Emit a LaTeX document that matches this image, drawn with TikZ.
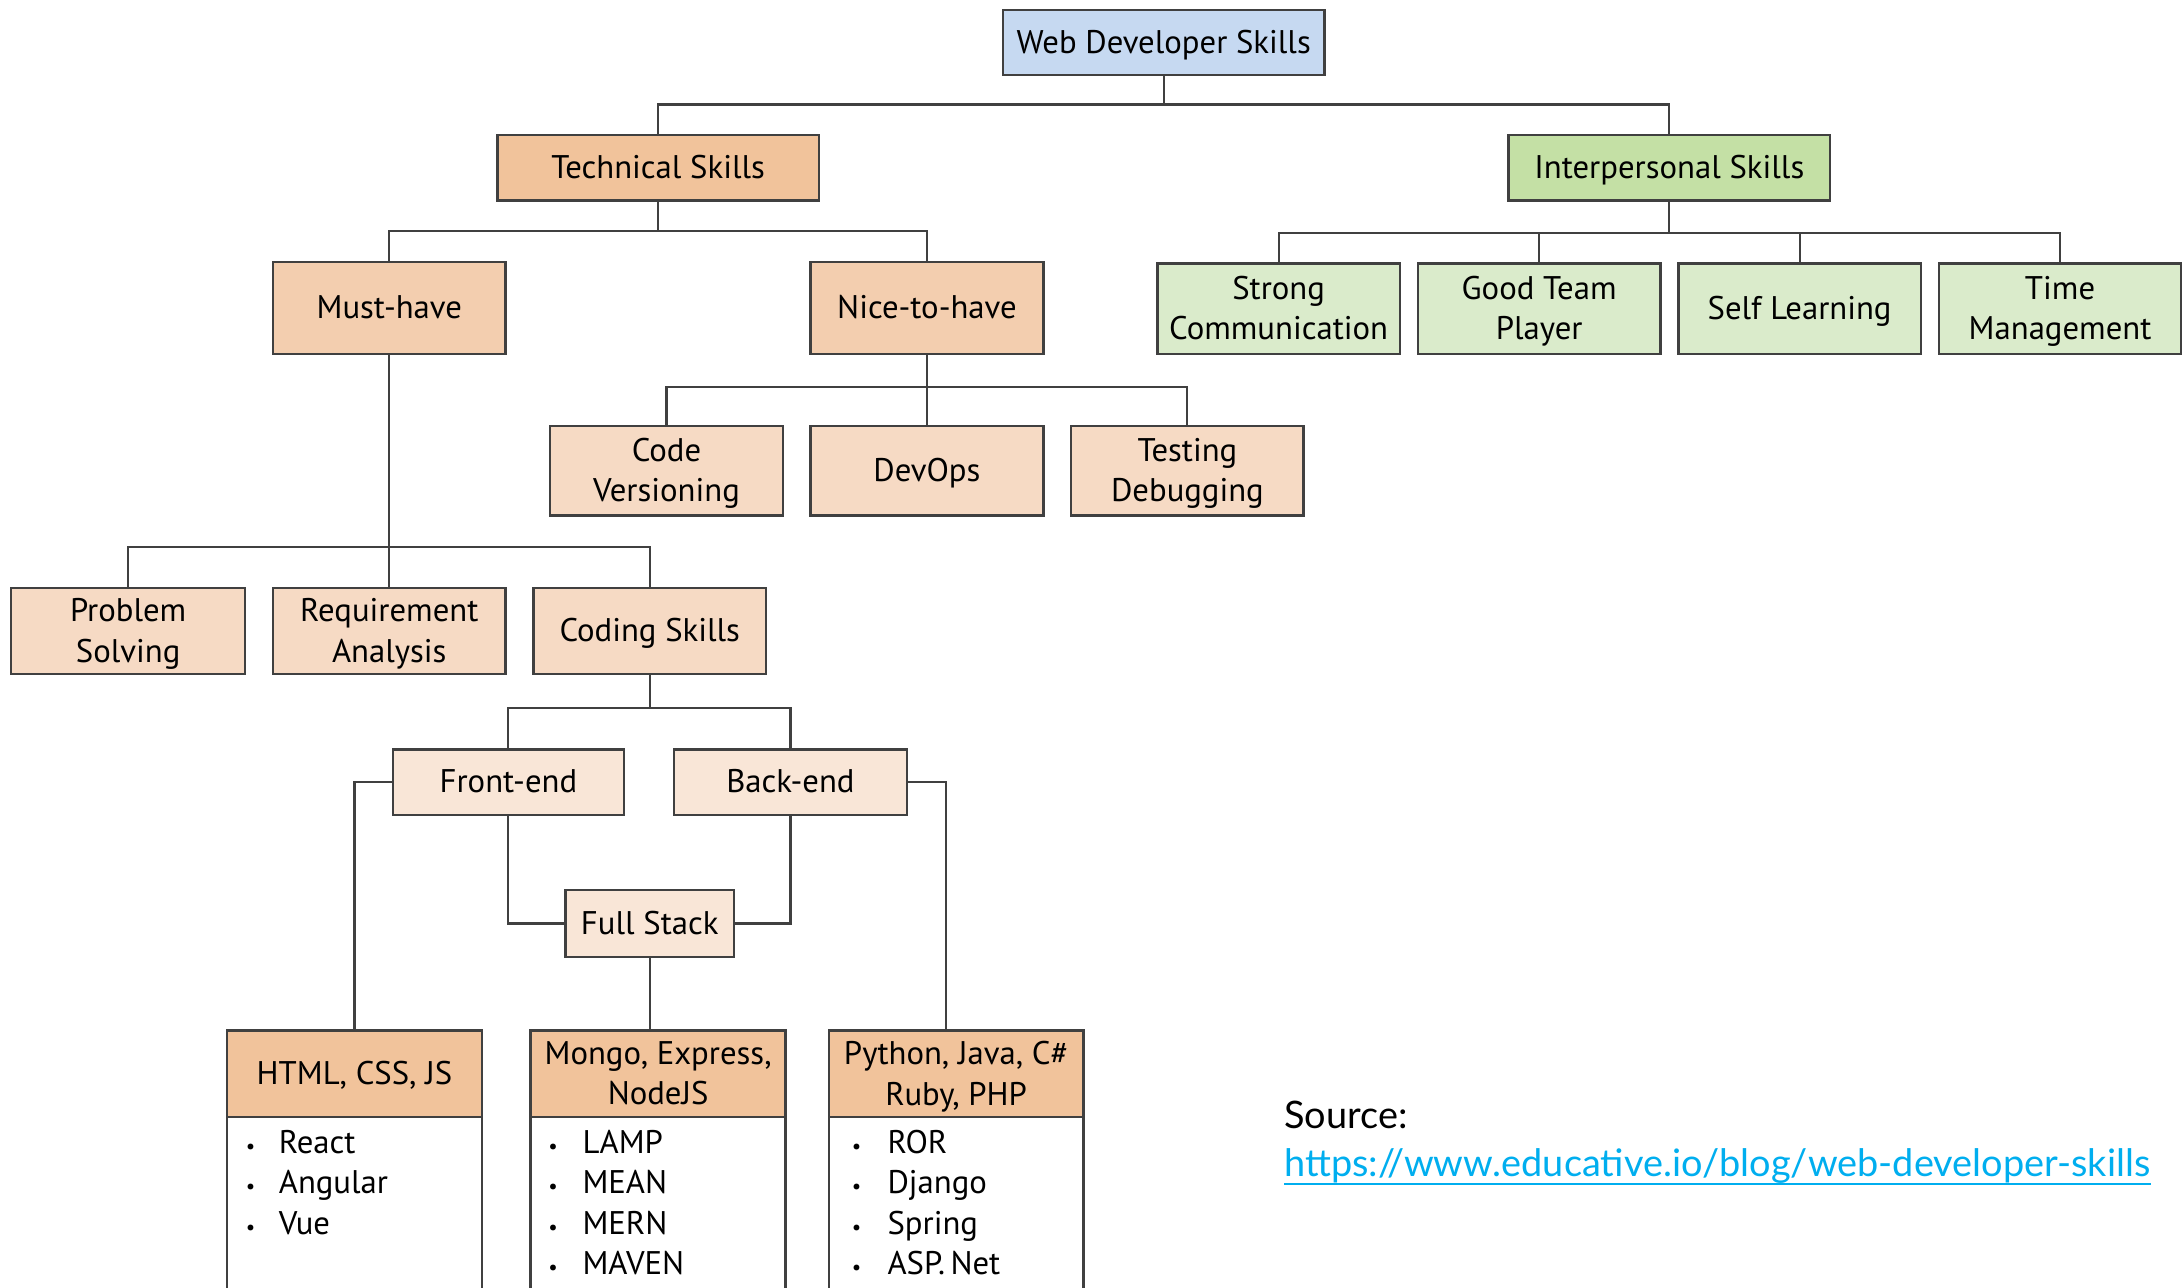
\documentclass[tikz,border=0pt]{standalone}
\usepackage{fontspec}
\setmainfont{PT Sans}
\newfontfamily\srcfont{Lato}
\definecolor{webblue}{HTML}{C6D9F1}
\definecolor{techor}{HTML}{F1C39B}
\definecolor{mustor}{HTML}{F3CEAF}
\definecolor{lvlthree}{HTML}{F6DAC4}
\definecolor{lvlfour}{HTML}{F9E6D7}
\definecolor{intgreen}{HTML}{C4E0A5}
\definecolor{intgreenlt}{HTML}{DAEBCB}
\definecolor{boxline}{HTML}{404040}
\definecolor{linkcol}{HTML}{00AEEF}
\begin{document}
\begin{tikzpicture}[x=1pt,y=1pt,
  box/.style={draw=boxline, line width=1.8pt, rectangle, align=center, inner sep=0pt,
    text depth=1pt, font=\fontsize{23.5}{29}\selectfont, text=black},
  conn/.style={draw=boxline, line width=1.5pt},
  item/.style={anchor=base west, inner sep=0pt, font=\fontsize{23.5}{25}\selectfont},
  bul/.style={anchor=base, inner sep=0pt, font=\fontsize{15}{16}\selectfont}]
\clip (0,0) rectangle (1568,-924.7);
\fill[white] (0,0) rectangle (1568,-924.7);
% levels
\coordinate (b1) at (0,-75);
\coordinate (b2) at (0,-166);
\coordinate (b3) at (0,-167);
\coordinate (b4) at (0,-278);
\coordinate (b5) at (0,-393);
\coordinate (b6) at (0,-508);
% nodes
\node[box, fill=webblue, minimum width=231pt, minimum height=47pt] (web) at (835.5,-30.5) {Web Developer Skills};
\node[box, fill=techor, minimum width=231pt, minimum height=47pt] (tech) at (472.5,-120.5) {Technical Skills};
\node[box, fill=intgreen, minimum width=231pt, minimum height=47pt] (inter) at (1198.5,-120.5) {Interpersonal Skills};
\node[box, fill=mustor, minimum width=167pt, minimum height=66pt] (must) at (279.5,-221) {Must-have};
\node[box, fill=mustor, minimum width=167pt, minimum height=66pt] (nice) at (665.5,-221) {Nice-to-have};
\node[box, fill=intgreenlt, minimum width=174pt, minimum height=65pt] (strong) at (918,-221.5) {Strong\\Communication};
\node[box, fill=intgreenlt, minimum width=174pt, minimum height=65pt] (team) at (1105,-221.5) {Good Team\\Player};
\node[box, fill=intgreenlt, minimum width=174pt, minimum height=65pt] (self) at (1292,-221.5) {Self Learning};
\node[box, fill=intgreenlt, minimum width=174pt, minimum height=65pt] (time) at (1479,-221.5) {Time\\Management};
\node[box, fill=lvlthree, minimum width=167pt, minimum height=64pt] (code) at (478.5,-338) {Code\\Versioning};
\node[box, fill=lvlthree, minimum width=167pt, minimum height=64pt] (devops) at (665.5,-338) {DevOps};
\node[box, fill=lvlthree, minimum width=167pt, minimum height=64pt] (test) at (852.5,-338) {Testing\\Debugging};
\node[box, fill=lvlthree, minimum width=168pt, minimum height=62pt] (prob) at (92,-453) {Problem\\Solving};
\node[box, fill=lvlthree, minimum width=167pt, minimum height=62pt] (req) at (279.5,-453) {Requirement\\Analysis};
\node[box, fill=lvlthree, minimum width=167pt, minimum height=62pt] (coding) at (466.5,-453) {Coding Skills};
\node[box, fill=lvlfour, minimum width=166pt, minimum height=47pt] (front) at (365,-561.5) {Front-end};
\node[box, fill=lvlfour, minimum width=167pt, minimum height=47pt] (back) at (567.5,-561.5) {Back-end};
\node[box, fill=lvlfour, minimum width=121pt, minimum height=48pt] (full) at (466.5,-663) {Full Stack};
% bottom boxes
\draw[draw=boxline, line width=1.8pt, fill=white] (163,-802) rectangle (346,-940);
\draw[draw=boxline, line width=1.8pt, fill=white] (381,-802) rectangle (564,-940);
\draw[draw=boxline, line width=1.8pt, fill=white] (595,-802) rectangle (778,-940);
\node[box, fill=techor, minimum width=183pt, minimum height=62pt] (html) at (254.5,-771) {HTML, CSS, JS};
\node[box, fill=techor, minimum width=183pt, minimum height=62pt] (mongo) at (472.5,-771) {Mongo, Express,\\NodeJS};
\node[box, fill=techor, minimum width=183pt, minimum height=62pt] (python) at (686.5,-771) {Python, Java, C\#\\Ruby, PHP};
\coordinate (pyin) at (679,-740);
% items
\foreach \t [count=\i] in {React,Angular,Vue}{
  \node[bul] (hb\i) at (180,-828-29*\i+29) {•};
  \node[item] (ht\i) at (200,-828-29*\i+29) {\t};
}
\foreach \t [count=\i] in {LAMP,MEAN,MERN,MAVEN}{
  \node[bul] (mb\i) at (397,-828-29*\i+29) {•};
  \node[item] (mt\i) at (418,-828-29*\i+29) {\t};
}
\foreach \t [count=\i] in {ROR,Django,Spring,ASP.\,Net}{
  \node[bul] (pb\i) at (615,-828-29*\i+29) {•};
  \node[item] (pt\i) at (637,-828-29*\i+29) {\t};
}
% connectors
\draw[conn] (web.south) -- (web.south |- b1) -| (tech.north);
\draw[conn] (web.south |- b1) -| (inter.north);
\draw[conn] (tech.south) -- (tech.south |- b2) -| (must.north);
\draw[conn] (tech.south |- b2) -| (nice.north);
\draw[conn] (inter.south) -- (inter.south |- b3) -| (strong.north);
\draw[conn] (inter.south |- b3) -| (team.north);
\draw[conn] (inter.south |- b3) -| (self.north);
\draw[conn] (inter.south |- b3) -| (time.north);
\draw[conn] (nice.south) -- (devops.north);
\draw[conn] (nice.south |- b4) -| (code.north);
\draw[conn] (nice.south |- b4) -| (test.north);
\draw[conn] (must.south) -- (req.north);
\draw[conn] (must.south |- b5) -| (prob.north);
\draw[conn] (must.south |- b5) -| (coding.north);
\draw[conn] (coding.south) -- (coding.south |- b6) -| (front.north);
\draw[conn] (coding.south |- b6) -| (back.north);
\draw[conn] (front.west) -| (html.north);
\draw[conn] (back.east) -| (pyin);
\draw[conn] (front.south) |- (full.west);
\draw[conn] (back.south) |- (full.east);
\draw[conn] (full.south) -- (full.south |- mongo.north);
% source
\node[anchor=base west, inner sep=0pt, font=\srcfont\fontsize{27.2}{30}\selectfont] (src) at (922,-810) {Source:};
\node[anchor=base west, inner sep=0pt, font=\srcfont\fontsize{27.2}{30}\selectfont, text=linkcol] (url) at (922,-845) {https://www.educative.io/blog/web-developer-skills};
\draw[linkcol, line width=1.5pt] ([yshift=-5pt]url.base west) -- ([yshift=-5pt]url.base east);
\end{tikzpicture}
\end{document}
